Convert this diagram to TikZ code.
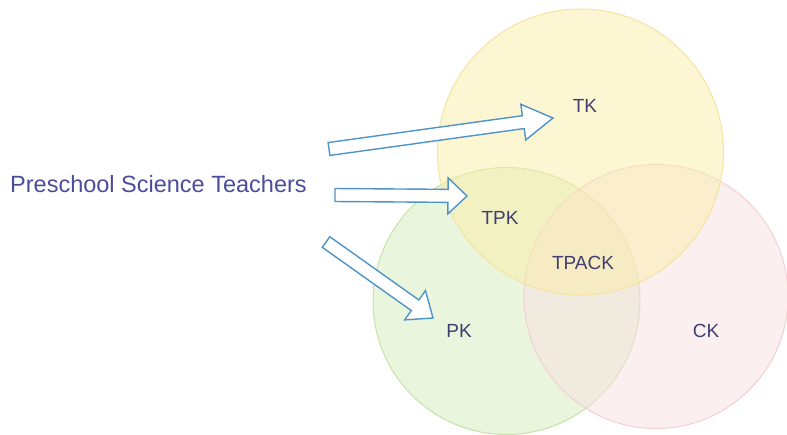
\documentclass[tikz,border=0pt]{standalone}
\usepackage{fontspec}
\setmainfont{Liberation Sans}
\usetikzlibrary{calc}
\definecolor{ylwF}{HTML}{FBEDA8}
\definecolor{ylwD}{HTML}{F5E3A0}
\definecolor{grnF}{HTML}{D3EBB9}
\definecolor{grnD}{HTML}{C8E2A6}
\definecolor{pnkF}{HTML}{FADFE1}
\definecolor{pnkD}{HTML}{F2D0D3}
\definecolor{arrC}{HTML}{4F93C9}
\definecolor{mainT}{HTML}{4B4C9C}
\definecolor{lblT}{HTML}{3E3F6E}
\tikzset{
  venn/.style={circle, inner sep=0pt, outer sep=0pt, minimum size=#1, fill opacity=0.5, line width=1pt},
  lbl/.style={text=lblT, font=\fontsize{19}{19}\selectfont, anchor=base, inner sep=0pt},
  blockarrow/.style={draw=arrC, fill=white, line width=1.4pt, line join=miter}
}
\newcommand{\hollowarrow}[3]{%
  \path[blockarrow] ($(#1)!6.5pt!90:(#2)$)
    -- ($($(#2)!#3!(#1)$)!6.5pt!-90:(#1)$)
    -- ($($(#2)!#3!(#1)$)!18pt!-90:(#1)$)
    -- (#2)
    -- ($($(#2)!#3!(#1)$)!18pt!90:(#1)$)
    -- ($($(#2)!#3!(#1)$)!6.5pt!90:(#1)$)
    -- ($(#1)!6.5pt!-90:(#2)$) -- cycle;}
\begin{document}
\begin{tikzpicture}[x=1pt,y=-1pt]
\useasboundingbox (0,0) rectangle (787,434);
\node[venn=267pt, fill=grnF, draw=grnD] (pk) at (506.5,301) {};
\node[venn=264pt, fill=pnkF, draw=pnkD] (ck) at (656,296.5) {};
\node[venn=286pt, fill=ylwF, draw=ylwD] (tk) at (580.5,152) {};
\node[lbl] (tkl) at (585,112) {TK};
\node[lbl] (tpkl) at (500,224) {TPK};
\node[lbl] (tpackl) at (583,269) {TPACK};
\node[lbl] (pkl) at (459,337) {PK};
\node[lbl] (ckl) at (706,337) {CK};
\node[text=mainT, font=\fontsize{23.5}{23.5}\selectfont, anchor=base west, inner sep=0pt] (pst) at (10,192) {Preschool Science Teachers};
\coordinate (a1s) at (329,149);
\coordinate (a1e) at (553,118);
\coordinate (a2s) at (335,195);
\coordinate (a2e) at (467,196);
\coordinate (a3s) at (326,242);
\coordinate (a3e) at (433,318);
\hollowarrow{a1s}{a1e}{30pt}
\hollowarrow{a2s}{a2e}{19pt}
\hollowarrow{a3s}{a3e}{22pt}
\end{tikzpicture}
\end{document}
